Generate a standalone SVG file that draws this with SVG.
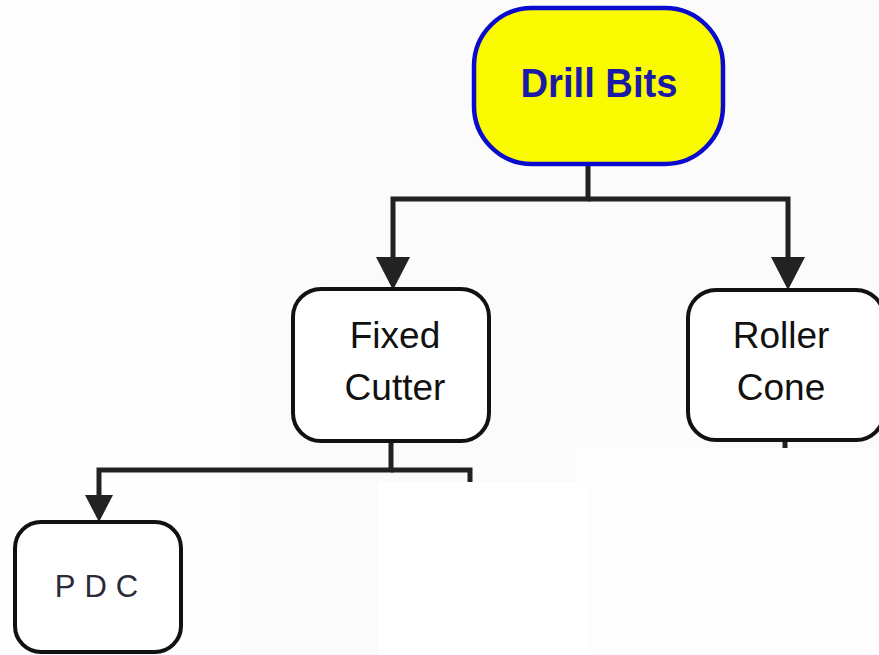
<svg xmlns="http://www.w3.org/2000/svg" width="879" height="655" viewBox="0 0 879 655">
<style>
.box{fill:#fff;stroke:#111;stroke-width:4}
.lbl{font-family:"Liberation Sans",Arial,sans-serif;font-size:37px;fill:#111;text-anchor:middle}
.conn{fill:none;stroke:#222;stroke-width:5;stroke-linejoin:miter}
.head{fill:#222}
</style>
<rect x="0" y="0" width="879" height="655" fill="#fbfbfb"/>
<rect x="0" y="0" width="240" height="655" fill="#fefefe"/>
<g id="connectors">
<polyline class="conn" points="588,165 588,199 393,199 393,262"/>
<polyline class="conn" points="588,199 788,199 788,262"/>
<polygon class="head" points="376,257 410,257 393,290"/>
<polygon class="head" points="771,257 805,257 788,290"/>
<line class="conn" x1="785" y1="440" x2="785" y2="448"/>
<polyline class="conn" points="391,442 391,470 99,470 99,500"/>
<polyline class="conn" points="391,470 470,470 470,482"/>
<polygon class="head" points="85,495 113,495 99,522"/>
</g>
<g id="drill-bits">
<rect x="474" y="8" width="249" height="156" rx="58" ry="58" fill="#fafa00" stroke="#0b0bcf" stroke-width="4.5"/>
<text x="599" y="97" font-family="Liberation Sans,Arial,sans-serif" font-weight="bold" font-size="41" fill="#1a1aa6" text-anchor="middle" textLength="157" lengthAdjust="spacingAndGlyphs">Drill Bits</text>
</g>
<g id="fixed-cutter">
<rect class="box" x="293" y="289" width="196" height="152" rx="28" ry="28"/>
<text class="lbl" x="395" y="348">Fixed</text>
<text class="lbl" x="395" y="400">Cutter</text>
</g>
<g id="roller-cone">
<rect class="box" x="688" y="290" width="196" height="150" rx="28" ry="28"/>
<text class="lbl" x="781" y="348">Roller</text>
<text class="lbl" x="781" y="400">Cone</text>
</g>
<g id="pdc">
<rect class="box" x="15" y="522" width="166" height="130" rx="26" ry="26"/>
<text x="101" y="597" font-family="Liberation Sans,Arial,sans-serif" font-size="31" fill="#2a2a3a" text-anchor="middle" letter-spacing="9">PDC</text>
</g>
<rect x="575" y="448" width="304" height="207" fill="#fdfdfd"/>
<rect x="378" y="482" width="212" height="173" fill="#ffffff"/>
</svg>
